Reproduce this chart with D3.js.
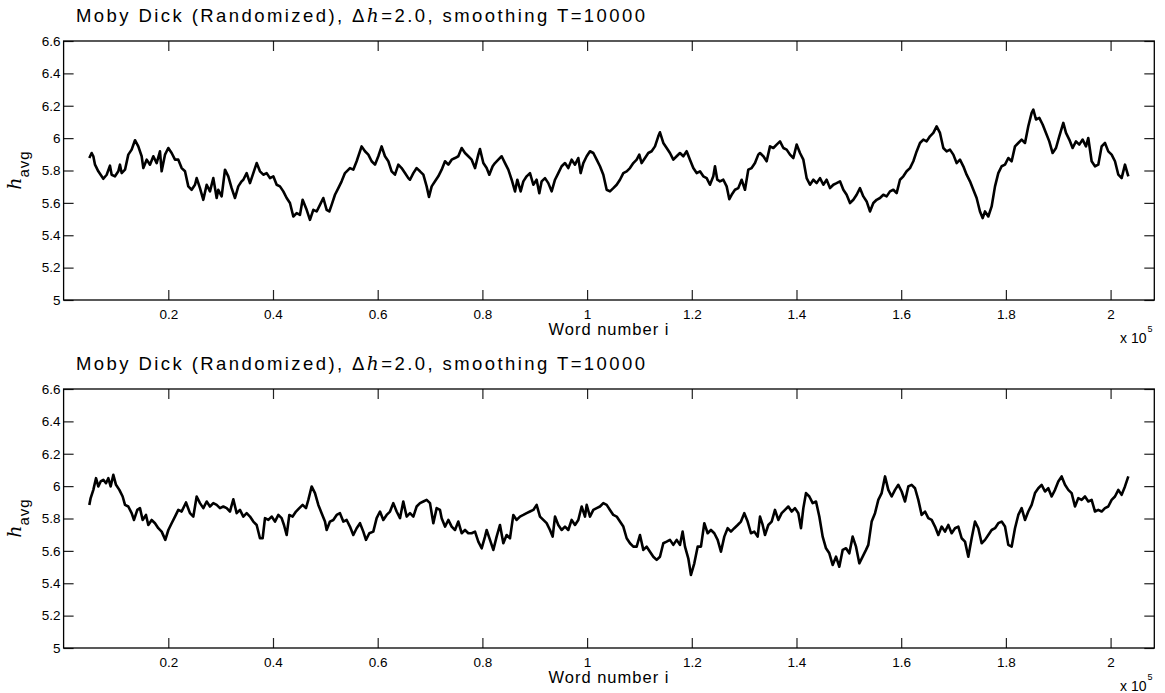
<!DOCTYPE html>
<html>
<head>
<meta charset="utf-8">
<script src="https://cdn.jsdelivr.net/npm/d3@7"></script>
<style>
  body { margin: 0; background: #fff; }
  text { font-family: "Liberation Sans", Arial, Helvetica, sans-serif; fill: #000; }
</style>
</head>
<body>
<svg id="chart" width="1165" height="693"></svg>
<script>
// x in thousands of words, labels shown in units of 1e5
const xTicks = [20, 40, 60, 80, 100, 120, 140, 160, 180, 200];
const xTickLabels = ["0.2", "0.4", "0.6", "0.8", "1", "1.2", "1.4", "1.6", "1.8", "2"];
const yTicks = [5, 5.2, 5.4, 5.6, 5.8, 6, 6.2, 6.4, 6.6];
const yTickLabels = ["5", "5.2", "5.4", "5.6", "5.8", "6", "6.2", "6.4", "6.6"];
const xMax = 208.35;

// top panel : [word number (thousands), h_avg]
const topRun = [
  [4.91,5.877],[5.36,5.908],[5.68,5.888],[6.00,5.836],[6.63,5.795],[7.59,5.749],[8.23,5.774],[8.86,5.830],[9.18,5.774],[9.82,5.764],
  [10.45,5.795],[10.77,5.836],[11.09,5.784],[11.73,5.805],[12.36,5.898],[13.00,5.929],[13.64,5.987],[14.27,5.949],[14.91,5.888],[15.23,5.815],
  [15.87,5.867],[16.50,5.836],[17.14,5.888],[17.78,5.846],[18.41,5.919],[18.73,5.795],[19.37,5.898],[20.00,5.939],[20.64,5.908],[21.28,5.867],
  [21.91,5.867],[22.55,5.815],[23.19,5.795],[23.82,5.702],[24.46,5.681],[25.10,5.712],[25.42,5.753],[26.05,5.691],[26.69,5.619],[27.33,5.712],
  [27.96,5.671],[28.60,5.753],[29.24,5.630],[29.55,5.681],[30.19,5.640],[30.83,5.805],[31.46,5.764],[32.10,5.691],[32.74,5.630],[33.37,5.702],
  [34.01,5.733],[34.33,5.743],[34.97,5.784],[35.60,5.722],[36.24,5.784],[36.88,5.846],[37.51,5.795],[38.15,5.774],[38.79,5.784],[39.42,5.753],
  [40.06,5.764],[40.70,5.712],[41.33,5.702],[41.97,5.671],[42.61,5.630],[43.24,5.599],[43.88,5.516],[44.52,5.537],[45.15,5.526],[45.66,5.619],
  [46.43,5.557],[47.06,5.495],[47.70,5.557],[48.34,5.547],[48.97,5.588],[49.61,5.630],[50.25,5.557],[50.76,5.547],[51.20,5.588],[51.84,5.650],
  [52.48,5.691],[53.11,5.733],[53.75,5.784],[54.70,5.815],[55.34,5.805],[55.98,5.857],[56.93,5.949],[57.57,5.919],[58.21,5.898],[58.84,5.857],
  [59.48,5.836],[60.12,5.888],[60.75,5.949],[61.39,5.888],[62.03,5.857],[62.66,5.795],[63.30,5.774],[63.94,5.836],[64.57,5.815],[65.21,5.784],
  [65.85,5.753],
  [66.17,5.743],[66.81,5.784],[67.44,5.815],[68.08,5.795],[68.72,5.774],[69.35,5.702],[69.80,5.636],[70.31,5.702],[70.95,5.733],[71.58,5.764],
  [72.22,5.805],[72.86,5.857],[73.49,5.836],[74.13,5.867],[74.77,5.877],[75.40,5.888],[76.04,5.939],[76.68,5.908],[77.31,5.888],[77.95,5.867],
  [78.59,5.815],[79.22,5.898],[79.54,5.933],[80.18,5.846],[80.81,5.815],[81.32,5.774],[81.96,5.826],[82.41,5.846],[83.04,5.867],[83.68,5.888],
  [84.32,5.846],[84.95,5.805],[85.59,5.743],[86.23,5.671],[86.67,5.743],[87.31,5.671],[87.82,5.733],[88.45,5.764],[89.09,5.784],[89.73,5.712],
  [90.36,5.743],[90.87,5.660],[91.32,5.733],[91.96,5.753],[92.59,5.722],[93.23,5.671],[93.87,5.743],[94.50,5.784],[95.14,5.826],[95.78,5.846],
  [96.41,5.815],[97.05,5.867],[97.69,5.836],[98.32,5.877],[98.77,5.784],[99.28,5.846],[99.92,5.888],[100.55,5.919],[101.19,5.908],[101.83,5.867],
  [102.46,5.826],[103.10,5.774],[103.74,5.681],[104.37,5.671],[105.01,5.691],[105.65,5.712],[106.28,5.743],[106.92,5.784],[107.56,5.795],[108.19,5.815],
  [108.83,5.846],[109.47,5.867],[109.97,5.898],[110.42,5.846],[111.06,5.877],[111.69,5.908],[112.33,5.919],[112.97,5.949],[113.60,6.011],[113.92,6.036],
  [114.56,5.970],[115.20,5.939],[115.83,5.908],[116.47,5.867],[117.11,5.888],[117.74,5.908],[118.38,5.888],[119.02,5.919],[119.65,5.867],[120.29,5.815],
  [120.93,5.784],[121.56,5.795],[122.20,5.764],[122.84,5.753],[123.47,5.712],[124.11,5.764],[124.43,5.826],[124.87,5.743],[125.38,5.733],[126.02,5.743],
  [126.66,5.702],[127.17,5.623],[127.61,5.650],[128.25,5.681],[128.88,5.691],[129.52,5.743],[130.16,5.681],[130.79,5.805],[131.43,5.815],[132.07,5.846],
  [132.70,5.898],
  [133.03,5.908],[133.67,5.888],[134.30,5.857],[134.94,5.949],[135.58,5.939],[136.21,5.960],[136.85,5.980],[137.49,5.939],[138.12,5.929],[138.76,5.898],
  [139.40,5.877],[140.03,5.960],[140.67,5.908],[141.31,5.867],[141.94,5.753],[142.58,5.712],[143.22,5.743],[143.85,5.722],[144.49,5.753],[145.13,5.712],
  [145.76,5.743],[146.40,5.691],[147.04,5.712],[147.67,5.722],[148.31,5.733],[148.95,5.681],[149.58,5.650],[150.22,5.599],[150.86,5.619],[151.49,5.650],
  [152.13,5.691],[152.77,5.640],[153.40,5.609],[154.04,5.547],[154.68,5.599],[155.31,5.619],[155.95,5.630],[156.59,5.650],[157.22,5.640],[157.86,5.671],
  [158.50,5.681],[159.13,5.660],[159.77,5.743],[160.41,5.764],[161.04,5.795],[161.68,5.815],[162.32,5.857],[162.95,5.918],[163.59,5.970],[164.23,5.991],
  [164.86,5.980],[165.50,6.011],[166.14,6.032],[166.77,6.073],[167.41,6.032],[168.05,5.939],[168.68,5.918],[169.32,5.929],[169.96,5.898],[170.59,5.846],
  [171.23,5.867],[171.87,5.826],[172.50,5.774],[173.14,5.733],[173.78,5.681],[174.41,5.630],[175.05,5.547],[175.56,5.506],[176.01,5.547],[176.64,5.516],
  [177.28,5.578],[177.92,5.702],[178.55,5.784],[179.19,5.826],[179.83,5.836],[180.46,5.877],[181.10,5.857],[181.74,5.949],[182.37,5.970],[183.01,5.991],
  [183.65,5.970],[184.28,6.073],[184.92,6.156],[185.24,6.176],[185.75,6.115],[186.38,6.125],[187.02,6.084],[187.66,6.032],[188.29,5.980],[188.93,5.908],
  [189.57,5.939],[190.20,6.011],[190.97,6.094],[191.48,6.032],[192.11,5.991],[192.75,5.939],[193.39,5.980],[194.02,5.960],[194.66,5.991],[195.30,5.949],
  [195.74,6.001],[196.38,5.857],[197.02,5.826],[197.65,5.836],[198.29,5.949],[198.93,5.970],[199.56,5.918],[200.20,5.898],[200.84,5.857],[201.48,5.774],
  [202.11,5.753],[202.75,5.836],[203.39,5.764]
];

// bottom panel : [word number (thousands), h_avg]
const bottomRun = [
  [4.91,5.884],[5.17,5.926],[5.68,5.977],[6.19,6.049],[6.63,5.998],[7.08,6.029],[7.59,6.039],[8.10,6.018],[8.54,6.049],[8.99,5.998],
  [9.50,6.070],[10.01,6.008],[10.65,5.977],[11.28,5.936],[11.73,5.884],[12.36,5.874],[13.00,5.833],[13.45,5.791],[14.08,5.853],[14.59,5.864],
  [15.10,5.791],[15.74,5.822],[16.18,5.760],[16.82,5.791],[17.46,5.771],[18.09,5.740],[18.73,5.719],[19.43,5.668],[20.01,5.729],[20.64,5.771],
  [21.28,5.812],[21.91,5.853],[22.55,5.843],[23.38,5.899],[24.14,5.833],[24.78,5.812],[25.42,5.936],[26.05,5.895],[26.69,5.864],[27.33,5.905],
  [27.96,5.874],[28.60,5.895],[29.24,5.884],[29.87,5.864],[30.51,5.874],[31.15,5.864],[31.78,5.843],[32.42,5.919],[33.06,5.833],[33.69,5.853],
  [34.33,5.812],[34.97,5.833],[35.60,5.812],[36.24,5.781],[36.88,5.760],[37.51,5.678],[38.02,5.678],[38.47,5.802],[39.11,5.791],[39.74,5.812],
  [40.38,5.781],[41.02,5.822],[41.65,5.802],[42.10,5.760],[42.61,5.698],[43.12,5.822],[43.75,5.812],[44.39,5.843],[45.03,5.864],[45.66,5.884],
  [46.30,5.864],[46.75,5.915],[47.38,5.998],[48.02,5.957],[48.66,5.884],[49.29,5.833],[49.93,5.781],[50.25,5.729],[50.88,5.781],[51.52,5.791],
  [52.16,5.822],[52.79,5.833],[53.43,5.781],[54.07,5.791],[54.70,5.750],[55.34,5.698],[55.98,5.740],[56.62,5.771],[57.25,5.719],[57.76,5.668],
  [58.40,5.709],[59.16,5.719],[59.80,5.802],[60.44,5.843],[61.07,5.791],[61.71,5.822],[62.35,5.843],[62.98,5.895],[63.62,5.843],[64.26,5.802],
  [64.89,5.905],[65.53,5.812],
  [66.17,5.833],[66.81,5.812],[67.44,5.874],[68.08,5.895],[68.72,5.905],[69.35,5.915],[69.99,5.895],[70.63,5.771],[71.26,5.864],[71.90,5.853],
  [72.22,5.802],[72.86,5.750],[73.49,5.791],[74.13,5.750],[74.77,5.729],[75.40,5.781],[76.04,5.709],[76.68,5.729],[77.31,5.709],[77.95,5.709],
  [78.59,5.719],[79.22,5.657],[79.86,5.616],[80.50,5.688],[80.81,5.729],[81.45,5.668],[82.09,5.606],[82.72,5.688],[83.36,5.760],[84.00,5.647],
  [84.63,5.698],[85.27,5.678],[85.91,5.822],[86.54,5.791],[87.18,5.812],[87.82,5.822],[88.45,5.833],[89.09,5.843],[89.73,5.853],[90.36,5.884],
  [91.00,5.812],[91.64,5.791],[92.27,5.771],[92.91,5.729],[93.42,5.688],[93.87,5.812],[94.50,5.760],[95.14,5.729],[95.78,5.750],[96.41,5.729],
  [97.05,5.791],[97.69,5.760],[98.32,5.791],[98.96,5.874],[99.60,5.812],[99.92,5.884],[100.55,5.812],[101.19,5.853],[101.83,5.864],[102.46,5.874],
  [103.10,5.895],[103.74,5.884],[104.37,5.853],[105.01,5.822],[105.65,5.812],[106.28,5.781],[106.92,5.750],[107.56,5.678],[108.19,5.647],[108.83,5.626],
  [109.47,5.626],[110.10,5.698],[110.74,5.606],[111.38,5.626],[112.01,5.595],[112.65,5.564],[113.29,5.544],[113.92,5.564],[114.56,5.647],[115.20,5.657],
  [115.83,5.668],[116.47,5.637],[117.11,5.668],[117.74,5.637],[118.25,5.719],[118.70,5.626],[119.33,5.554],[119.84,5.451],[120.48,5.523],[121.12,5.626],
  [121.75,5.626],[122.39,5.771],[123.03,5.709],[123.66,5.729],[124.30,5.709],[124.94,5.668],[125.57,5.595],[126.21,5.688],[126.85,5.740],[127.48,5.719],
  [128.12,5.740],[128.76,5.760],[129.39,5.781],[130.03,5.833],[130.67,5.781],[131.30,5.709],[131.94,5.719],[132.58,5.688],
  [133.03,5.812],[133.54,5.760],[133.98,5.698],[134.62,5.760],[135.26,5.781],[135.89,5.853],[136.53,5.791],[137.17,5.833],[137.80,5.853],[138.44,5.874],
  [139.08,5.843],[139.71,5.864],[140.35,5.833],[140.86,5.740],[141.31,5.864],[141.82,5.957],[142.45,5.936],[143.09,5.895],[143.73,5.905],[144.36,5.812],
  [145.00,5.688],[145.64,5.616],[146.27,5.585],[146.91,5.513],[147.55,5.564],[148.18,5.502],[148.82,5.606],[149.46,5.616],[150.09,5.585],[150.73,5.688],
  [151.37,5.626],[152.00,5.523],[152.64,5.564],[153.28,5.606],[153.72,5.637],[154.36,5.781],[155.00,5.833],[155.63,5.915],[156.27,5.957],[156.91,6.060],
  [157.54,5.977],[158.18,5.936],[158.82,5.977],[159.45,6.008],[160.09,5.967],[160.73,5.905],[161.36,5.998],[162.00,6.008],[162.64,5.987],[163.27,5.915],
  [163.91,5.822],[164.55,5.843],[165.18,5.802],[165.82,5.791],[166.46,5.750],[167.09,5.698],[167.73,5.750],[168.37,5.719],[169.00,5.760],[169.64,5.709],
  [170.28,5.740],[170.91,5.750],[171.55,5.678],[172.19,5.657],[172.82,5.564],[173.46,5.678],[174.10,5.781],[174.73,5.740],[175.37,5.647],[176.01,5.668],
  [176.64,5.698],[177.28,5.729],[177.92,5.740],[178.55,5.771],[179.19,5.781],[179.83,5.750],[180.46,5.637],[181.10,5.626],[181.74,5.740],[182.37,5.822],
  [183.01,5.864],[183.65,5.791],[184.28,5.843],[184.92,5.884],[185.56,5.957],[186.19,5.987],[186.83,6.008],[187.47,5.967],[188.10,5.987],[188.74,5.936],
  [189.38,5.977],[190.01,6.029],[190.65,6.060],[191.29,6.008],[191.92,5.977],[192.56,5.957],[193.20,5.874],[193.83,5.926],[194.47,5.915],[195.11,5.936],
  [195.74,5.905],[196.38,5.915],[197.02,5.843],[197.65,5.853],[198.29,5.843],[198.93,5.864],[199.56,5.874],[200.20,5.915],[200.84,5.936],[201.48,5.977],
  [202.11,5.946],[202.75,5.998],[203.39,6.060]
];

const titleStart = "Moby Dick (Randomized), \u0394";
const titleMid = "h";
const titleEnd = "=2.0, smoothing T=10000";

const svg = d3.select('#chart');
const left = 63.6, right = 1154.3;
const pw = right - left, ph = 259;

function drawPanel(top, run) {
  const g = svg.append('g').attr('transform', `translate(${left},${top})`);
  const x = d3.scaleLinear().domain([0, xMax]).range([0, pw]);
  const y = d3.scaleLinear().domain([5, 6.6]).range([ph, 0]);

  g.append('path')
    .datum(run)
    .attr('fill', 'none')
    .attr('stroke', '#000')
    .attr('stroke-width', 2.6)
    .attr('stroke-linejoin', 'round')
    .attr('d', d3.line().x(d => x(d[0])).y(d => y(d[1])));

  const bottomAxis = g.append('g')
    .attr('transform', `translate(0,${ph})`)
    .call(d3.axisBottom(x).tickValues(xTicks).tickFormat((d, i) => xTickLabels[i])
      .tickSizeInner(-10).tickSizeOuter(0).tickPadding(9));
  const topAxis = g.append('g')
    .call(d3.axisTop(x).tickValues(xTicks).tickFormat('')
      .tickSizeInner(-10).tickSizeOuter(0));
  const leftAxis = g.append('g')
    .call(d3.axisLeft(y).tickValues(yTicks).tickFormat((d, i) => yTickLabels[i])
      .tickSizeInner(-10).tickSizeOuter(0).tickPadding(3));
  const rightAxis = g.append('g')
    .attr('transform', `translate(${pw},0)`)
    .call(d3.axisRight(y).tickValues(yTicks).tickFormat('')
      .tickSizeInner(-10).tickSizeOuter(0));

  [bottomAxis, topAxis, leftAxis, rightAxis].forEach(a => {
    a.select('.domain').remove();
    a.selectAll('line').attr('stroke', '#222').attr('stroke-width', 1.2);
    a.selectAll('text')
      .attr('font-family', '"Liberation Sans", Arial, sans-serif')
      .attr('font-size', 13.5).attr('fill', '#000');
  });

  g.append('rect')
    .attr('width', pw).attr('height', ph)
    .attr('fill', 'none').attr('stroke', '#000').attr('stroke-width', 1.3);

  // title
  const t = svg.append('text')
    .attr('x', 76).attr('y', top - 19)
    .attr('font-size', 18.5)
    .attr('textLength', 569).attr('lengthAdjust', 'spacing');
  t.append('tspan').text(titleStart);
  t.append('tspan')
    .attr('font-family', '"DejaVu Serif", "Liberation Serif", serif')
    .attr('font-style', 'italic').text(titleMid);
  t.append('tspan').text(titleEnd);

  // x label
  svg.append('text')
    .attr('x', left + pw / 2).attr('y', top + 294)
    .attr('text-anchor', 'middle')
    .attr('font-size', 16.5)
    .attr('letter-spacing', 1)
    .text('Word number i');

  // x 10^5
  const m = svg.append('text')
    .attr('x', 1120).attr('y', top + 302)
    .attr('font-size', 14);
  m.append('tspan').text('x 10');
  m.append('tspan').attr('font-size', 9).attr('dy', -11).attr('dx', 1).text('5');

  // y label
  const yl = svg.append('text')
    .attr('transform', `translate(20.7,${top + 129}) rotate(-90)`)
    .attr('text-anchor', 'middle');
  yl.append('tspan')
    .attr('font-family', '"DejaVu Serif", "Liberation Serif", serif')
    .attr('font-style', 'italic').attr('font-size', 19).text('h');
  yl.append('tspan')
    .attr('font-size', 15).attr('dy', 8.5).attr('letter-spacing', 1).text('avg');
}

drawPanel(41, topRun);
drawPanel(389, bottomRun);
</script>
</body>
</html>
